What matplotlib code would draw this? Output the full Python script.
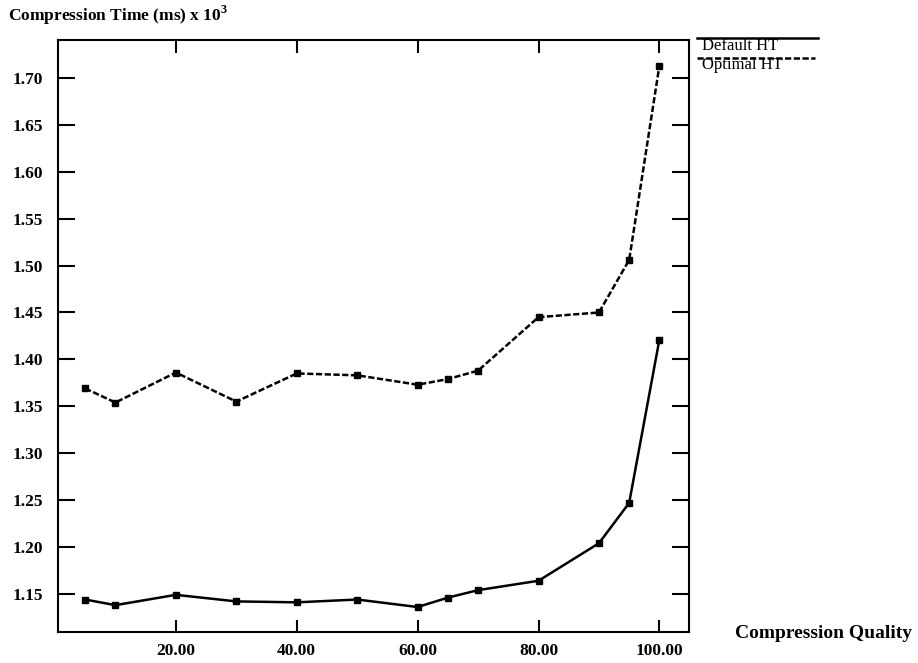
import matplotlib
matplotlib.use("Agg")
import matplotlib.pyplot as plt
from matplotlib.lines import Line2D

plt.rcParams['font.family'] = ['Liberation Serif', 'DejaVu Serif']
plt.rcParams['font.weight'] = 'bold'
plt.rcParams['mathtext.fontset'] = 'custom'
plt.rcParams['mathtext.rm'] = 'Liberation Serif'

quality = [5, 10, 20, 30, 40, 50, 60, 65, 70, 80, 90, 95, 100]
optimal_ht = [1.369, 1.354, 1.386, 1.355, 1.385, 1.383, 1.373, 1.379, 1.388,
              1.445, 1.450, 1.506, 1.713]
default_ht = [1.144, 1.138, 1.149, 1.142, 1.141, 1.144, 1.136, 1.146, 1.154,
              1.164, 1.204, 1.247, 1.421]
x_ticks = [20, 40, 60, 80, 100]
x_tick_labels = ["20.00", "40.00", "60.00", "80.00", "100.00"]
y_ticks = [1.15, 1.20, 1.25, 1.30, 1.35, 1.40, 1.45, 1.50, 1.55, 1.60, 1.65, 1.70]
y_tick_labels = ["1.15", "1.20", "1.25", "1.30", "1.35", "1.40", "1.45", "1.50",
                 "1.55", "1.60", "1.65", "1.70"]

W, H = 918, 663
fig = plt.figure(figsize=(W / 100, H / 100), dpi=100)
left, right, top, bottom = 58, 689, 39.5, 631.7
ax = fig.add_axes([left / W, 1 - bottom / H, (right - left) / W, (bottom - top) / H])

ax.plot(quality, optimal_ht, color='black', lw=1.8, ls=(0, (2.5, 1)),
        marker='s', ms=4, mfc='black', mec='black')
ax.plot(quality, default_ht, color='black', lw=1.8, ls='-',
        marker='s', ms=4, mfc='black', mec='black')

ax.set_xlim(0.5, 104.9)
ax.set_ylim(1.1097, 1.741)
ax.set_xticks(x_ticks)
ax.set_xticklabels(x_tick_labels)
ax.set_yticks(y_ticks)
ax.set_yticklabels(y_tick_labels)
ax.tick_params(axis='y', direction='in', length=12, width=1.5, labelsize=12.5,
               right=True, colors='black', pad=11)
ax.tick_params(axis='x', direction='in', length=9, width=1.5, labelsize=12.5,
               top=True, colors='black', pad=8)
for lab in ax.get_xticklabels() + ax.get_yticklabels():
    lab.set_fontweight('bold')
for s in ax.spines.values():
    s.set_linewidth(1.5)

fig.text(8 / W, 1 - 15 / H, r"Compression Time (ms) x 10$^{\mathregular{3}}$",
         fontsize=12.5, fontweight='bold', ha='left', va='center')
fig.text(735 / W, 1 - 634 / H, "Compression Quality", fontsize=14,
         fontweight='bold', ha='left', va='center')

# legend (xgraph style: line above label)
fig.add_artist(Line2D([697 / W, 818 / W], [1 - 37.5 / H, 1 - 37.5 / H],
                      color='black', lw=1.8, transform=fig.transFigure))
fig.text(702 / W, 1 - 46 / H, "Default HT", fontsize=12, fontweight='normal',
         ha='left', va='center')
fig.add_artist(Line2D([697 / W, 815 / W], [1 - 57.5 / H, 1 - 57.5 / H],
                      color='black', lw=1.8, ls=(0, (2.5, 1)),
                      transform=fig.transFigure))
fig.text(702 / W, 1 - 65 / H, "Optimal HT", fontsize=12, fontweight='normal',
         ha='left', va='center')

fig.savefig("out.png", dpi=100)
